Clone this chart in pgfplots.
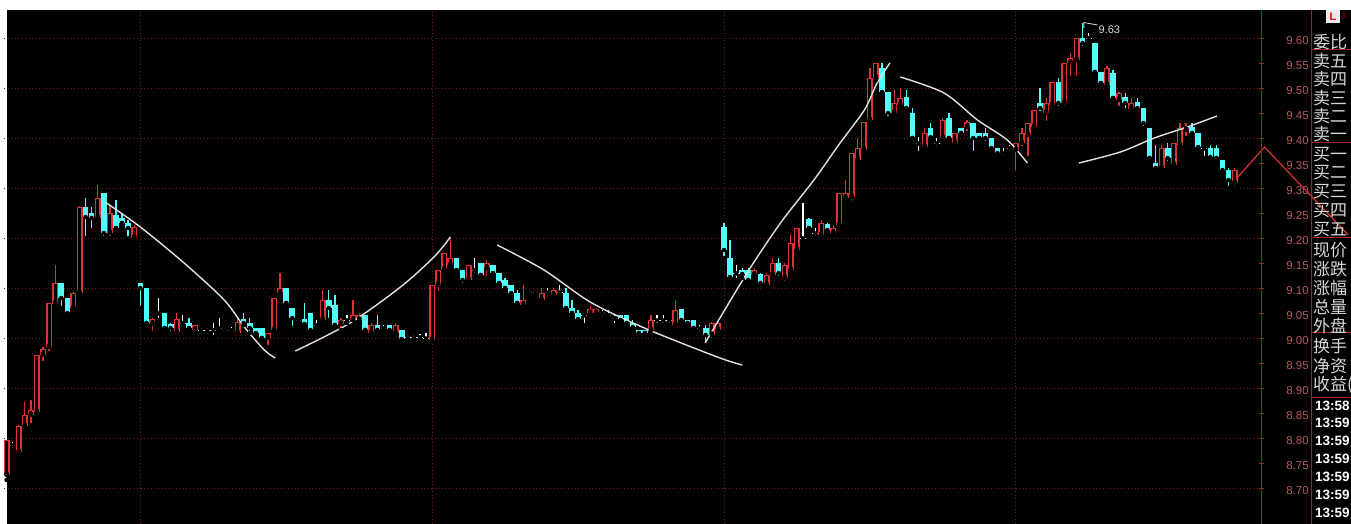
\documentclass[border=0pt]{standalone}
\usepackage{pgfplots}
\pgfplotsset{compat=1.18}
\usepackage{pgfplotstable}
\usepackage{fontspec}
\setmainfont{Liberation Sans}
\newfontfamily\cjk{Noto Sans CJK SC}
\definecolor{upred}{RGB}{220,50,50}
\definecolor{dncyan}{RGB}{84,252,252}
\definecolor{gridred}{RGB}{115,25,25}
\definecolor{axred}{RGB}{160,35,35}
\definecolor{lblgray}{RGB}{180,90,95}
\definecolor{txtgray}{RGB}{215,215,215}
\definecolor{trend}{RGB}{225,225,225}

\pgfplotstableread{
i o h l c
0 8.726 8.796 8.716 8.796
2 8.772 8.826 8.770 8.824
3 8.824 8.872 8.822 8.846
4 8.846 8.876 8.826 8.856
5 8.852 8.966 8.846 8.966
6 8.966 8.982 8.950 8.978
7 8.982 9.070 8.970 9.070
8 9.068 9.146 9.068 9.110
11 9.060 9.092 9.050 9.090
12 9.090 9.264 9.090 9.262
15 9.240 9.306 9.240 9.280
17 9.210 9.266 9.200 9.250
21 9.200 9.226 9.200 9.222
24 9.028 9.040 9.010 9.038
28 9.012 9.050 9.010 9.038
31 9.016 9.026 9.010 9.026
38 9.010 9.040 9.010 9.032
43 9.000 9.010 8.982 9.010
44 9.016 9.080 9.016 9.080
45 9.090 9.130 9.090 9.100
52 9.036 9.096 9.036 9.076
55 9.028 9.040 9.016 9.036
57 9.036 9.076 9.036 9.046
58 9.036 9.050 9.030 9.046
60 9.010 9.030 9.006 9.026
64 9.010 9.030 9.006 9.026
70 8.996 9.106 8.996 9.106
71 9.106 9.136 9.090 9.136
72 9.136 9.170 9.136 9.170
73 9.146 9.200 9.140 9.160
76 9.116 9.146 9.110 9.146
79 9.140 9.156 9.120 9.150
85 9.066 9.106 9.060 9.076
88 9.076 9.100 9.076 9.090
90 9.086 9.100 9.086 9.096
96 9.050 9.064 9.050 9.058
97 9.050 9.060 9.050 9.058
106 9.016 9.046 9.016 9.036
110 9.026 9.076 9.026 9.056
116 9.006 9.032 8.996 9.030
117 9.016 9.032 9.010 9.030
123 9.126 9.140 9.120 9.136
125 9.106 9.130 9.100 9.126
126 9.126 9.160 9.116 9.150
128 9.120 9.150 9.110 9.146
129 9.136 9.206 9.136 9.190
130 9.176 9.220 9.170 9.220
134 9.206 9.236 9.200 9.230
136 9.210 9.226 9.206 9.220
137 9.226 9.290 9.220 9.290
138 9.280 9.316 9.276 9.290
139 9.282 9.370 9.270 9.370
140 9.356 9.400 9.350 9.380
141 9.376 9.432 9.370 9.432
142 9.436 9.540 9.430 9.520
143 9.520 9.550 9.516 9.550
146 9.450 9.496 9.446 9.470
147 9.466 9.500 9.460 9.480
151 9.382 9.420 9.380 9.410
154 9.400 9.440 9.400 9.436
156 9.390 9.410 9.390 9.410
158 9.422 9.436 9.410 9.432
166 9.376 9.390 9.330 9.390
167 9.390 9.420 9.380 9.410
168 9.406 9.430 9.360 9.430
169 9.422 9.456 9.416 9.456
171 9.450 9.480 9.430 9.470
172 9.466 9.512 9.460 9.512
174 9.470 9.550 9.460 9.550
175 9.550 9.570 9.520 9.560
176 9.556 9.600 9.520 9.600
181 9.506 9.544 9.500 9.540
183 9.476 9.492 9.460 9.490
185 9.458 9.480 9.456 9.470
190 9.340 9.386 9.340 9.380
192 9.346 9.390 9.346 9.390
193 9.386 9.430 9.380 9.420
194 9.416 9.430 9.400 9.422
202 9.310 9.340 9.300 9.336
}\upcandles

\pgfplotstableread{
i o h l c
9 9.110 9.110 9.060 9.080
10 9.080 9.080 9.050 9.050
13 9.262 9.280 9.200 9.242
14 9.250 9.262 9.216 9.240
16 9.290 9.290 9.200 9.210
18 9.246 9.276 9.220 9.220
19 9.240 9.250 9.230 9.230
20 9.230 9.236 9.200 9.220
22 9.110 9.110 9.060 9.100
23 9.100 9.100 9.030 9.030
26 9.050 9.050 9.020 9.020
27 9.028 9.030 9.010 9.020
30 9.030 9.040 9.020 9.020
39 9.038 9.050 9.026 9.030
40 9.030 9.040 9.010 9.020
41 9.020 9.020 9.006 9.010
42 9.020 9.020 9.000 9.000
46 9.100 9.100 9.070 9.070
47 9.060 9.060 9.020 9.040
49 9.038 9.070 9.028 9.028
50 9.050 9.050 9.010 9.016
53 9.076 9.096 9.036 9.060
54 9.066 9.086 9.026 9.026
59 9.046 9.046 9.016 9.016
61 9.026 9.046 9.016 9.016
63 9.026 9.026 9.016 9.016
65 9.016 9.016 8.996 8.998
74 9.160 9.160 9.136 9.136
75 9.136 9.136 9.106 9.116
78 9.150 9.150 9.126 9.126
80 9.146 9.146 9.130 9.130
81 9.130 9.130 9.110 9.110
82 9.116 9.120 9.100 9.100
83 9.106 9.106 9.082 9.090
84 9.090 9.096 9.070 9.070
92 9.090 9.100 9.060 9.060
93 9.060 9.076 9.050 9.050
94 9.050 9.056 9.036 9.038
101 9.046 9.046 9.036 9.036
102 9.046 9.046 9.030 9.030
103 9.030 9.036 9.020 9.022
104 9.016 9.016 9.010 9.010
105 9.016 9.016 9.010 9.010
111 9.058 9.058 9.030 9.036
112 9.036 9.036 9.030 9.030
113 9.036 9.036 9.020 9.020
115 9.020 9.026 8.986 9.006
118 9.222 9.230 9.160 9.176
119 9.160 9.196 9.120 9.122
121 9.136 9.140 9.120 9.128
122 9.136 9.140 9.116 9.116
124 9.128 9.130 9.106 9.110
127 9.150 9.160 9.120 9.130
132 9.238 9.240 9.220 9.220
135 9.228 9.230 9.210 9.216
144 9.540 9.550 9.490 9.492
145 9.492 9.492 9.440 9.450
148 9.482 9.496 9.460 9.460
149 9.450 9.460 9.400 9.400
152 9.420 9.430 9.400 9.402
155 9.440 9.450 9.400 9.400
157 9.420 9.420 9.410 9.410
159 9.430 9.430 9.370 9.400
160 9.410 9.410 9.400 9.400
161 9.410 9.420 9.390 9.400
162 9.400 9.400 9.376 9.380
163 9.380 9.380 9.366 9.370
170 9.470 9.500 9.450 9.460
173 9.512 9.520 9.460 9.470
177 9.600 9.630 9.580 9.590
179 9.590 9.590 9.532 9.532
180 9.532 9.532 9.510 9.510
182 9.530 9.536 9.480 9.480
184 9.482 9.490 9.456 9.470
186 9.472 9.480 9.456 9.460
187 9.460 9.460 9.420 9.430
188 9.420 9.420 9.360 9.360
189 9.350 9.386 9.340 9.340
191 9.380 9.390 9.350 9.360
195 9.422 9.430 9.406 9.410
196 9.410 9.410 9.380 9.382
198 9.380 9.385 9.360 9.362
199 9.380 9.385 9.360 9.360
200 9.356 9.356 9.330 9.336
201 9.336 9.340 9.300 9.316
}\dncandles

\pgfplotstableread{
i o h l
1 8.786 8.792 8.776
25 9.050 9.080 9.036
29 9.030 9.046 9.030
32 9.016 9.020 9.010
33 9.016 9.020 9.010
34 9.016 9.030 9.002
35 9.020 9.040 9.016
36 9.016 9.020 9.010
37 9.016 9.022 9.010
48 9.036 9.040 9.030
51 9.026 9.036 9.016
56 9.036 9.046 9.030
62 9.020 9.026 9.012
66 9.002 9.006 8.996
67 9.002 9.006 8.994
68 9.002 9.008 8.994
69 9.000 9.010 8.996
77 9.136 9.160 9.126
86 9.092 9.096 9.086
87 9.092 9.096 9.086
89 9.092 9.100 9.086
91 9.092 9.106 9.086
95 9.046 9.050 9.026
98 9.050 9.056 9.040
99 9.046 9.056 9.040
100 9.040 9.046 9.026
107 9.036 9.046 9.026
108 9.036 9.046 9.026
109 9.036 9.036 9.026
114 9.020 9.026 9.010
120 9.130 9.146 9.116
131 9.200 9.270 9.196
133 9.210 9.220 9.200
150 9.390 9.402 9.370
153 9.390 9.400 9.380
164 9.370 9.380 9.360
165 9.380 9.386 9.370
178 9.600 9.610 9.595
197 9.380 9.380 9.360
}\djcandles

\begin{document}
\begin{tikzpicture}[x=1pt,y=1pt]
\path[use as bounding box] (0,0) rectangle (1351,524);
\fill[white] (0,0) rectangle (1351,524);
\fill[black] (7,0) rectangle (1351,514);

\begin{axis}[
  at={(7,0)}, anchor=south west,
  scale only axis, width=1255pt, height=514pt,
  xmin=-0.378, xmax=206.05, ymin=8.628, ymax=9.656,
  axis line style={draw=none},
  clip=false,
  xtick={22,70,118,166}, xticklabels={},
  xmajorgrids=true,
  x tick style={draw=none},
  ytick pos=right,
  ytick={8.70,8.75,8.80,8.85,8.90,8.95,9.00,9.05,9.10,9.15,9.20,9.25,9.30,9.35,9.40,9.45,9.50,9.55,9.60},
  yticklabels={8.70,8.75,8.80,8.85,8.90,8.95,9.00,9.05,9.10,9.15,9.20,9.25,9.30,9.35,9.40,9.45,9.50,9.55,9.60},
  yticklabel pos=right,
  yticklabel style={anchor=east, xshift=48pt, yshift=-2.5pt, text=lblgray, font=\fontsize{11.5}{12}\selectfont},
  y tick style={axred, line width=0.8pt},
  tick align=outside,
  major tick length=5pt,
  extra y ticks={8.7,8.8,8.9,9.0,9.1,9.2,9.3,9.4,9.5,9.6},
  extra y tick labels={},
  extra y tick style={grid=major, y tick style={draw=none}},
  grid style={gridred, line width=0.9pt, dash pattern=on 1pt off 2.5pt},
  error bars/error mark=none,
]
% ---- red (up) candles: wick, outline body, hollow interior
\addplot[only marks, mark=none, error bars/.cd, y dir=plus, y explicit,
  error bar style={upred, line width=1.3pt}]
  table[x=i, y=l, y error expr=\thisrow{h}-\thisrow{l}] {\upcandles};
\addplot[only marks, mark=none, error bars/.cd, y dir=plus, y explicit,
  error bar style={upred, line width=6pt}]
  table[x=i, y=o, y error expr=\thisrow{c}-\thisrow{o}] {\upcandles};
\addplot[only marks, mark=none, error bars/.cd, y dir=plus, y explicit,
  error bar style={black, line width=3pt}]
  table[x=i, y expr=\thisrow{o}+0.003, y error expr={max(\thisrow{c}-\thisrow{o}-0.006,0.001)}] {\upcandles};
% ---- cyan (down) candles
\addplot[only marks, mark=none, error bars/.cd, y dir=plus, y explicit,
  error bar style={dncyan, line width=1.3pt}]
  table[x=i, y=l, y error expr=\thisrow{h}-\thisrow{l}] {\dncandles};
\addplot[only marks, mark=none, error bars/.cd, y dir=plus, y explicit,
  error bar style={dncyan, line width=5.6pt}]
  table[x=i, y=c, y error expr=\thisrow{o}-\thisrow{c}] {\dncandles};
% ---- white doji
\addplot[only marks, mark=none, error bars/.cd, y dir=plus, y explicit,
  error bar style={white, line width=1.2pt}]
  table[x=i, y=l, y error expr=\thisrow{h}-\thisrow{l}] {\djcandles};
\addplot[only marks, mark=none, error bars/.cd, y dir=plus, y explicit,
  error bar style={white, line width=5.6pt}]
  table[x=i, y expr=\thisrow{o}-0.0009, y error expr=0.0018] {\djcandles};

% ---- hand-drawn trend curves
\addplot[trend, line width=1.4pt, smooth, tension=0.5] coordinates {
 (16.2,9.272) (22.0,9.222) (29.2,9.150) (35.8,9.076) (39.1,9.022) (42.4,8.976) (44.2,8.960)};
\addplot[trend, line width=1.4pt, smooth, tension=0.5] coordinates {
 (47.5,8.974) (56.5,9.030) (64.8,9.102) (70.3,9.162) (73.0,9.202)};
\addplot[trend, line width=1.4pt, smooth, tension=0.5] coordinates {
 (80.7,9.186) (88.4,9.136) (96.0,9.072) (104.9,9.020) (116.9,8.962) (121.0,8.946)};
\addplot[trend, line width=1.4pt, smooth, tension=0.5] coordinates {
 (114.9,8.990) (121.8,9.130) (127.3,9.230) (132.8,9.316) (137.1,9.390) (141.1,9.456) (143.2,9.510) (145.3,9.550)};
\addplot[trend, line width=1.4pt, smooth, tension=0.5] coordinates {
 (147.0,9.522) (154.2,9.490) (159.7,9.436) (164.6,9.396) (167.9,9.350)};
\addplot[trend, line width=1.4pt, smooth, tension=0.5] coordinates {
 (176.4,9.350) (183.2,9.372) (188.8,9.400) (194.2,9.422) (199.1,9.444)};
% ---- red price line at the right edge
\addplot[upred, line width=1.2pt] coordinates {(202.4,9.320) (206.9,9.382) (220.7,9.206)};

% ---- high marker
\draw[txtgray, line width=0.8pt] (axis cs:177.2,9.620) -- (axis cs:177.2,9.631) -- (axis cs:179.4,9.626);
\node[anchor=west, text=txtgray, font=\fontsize{11}{12}\selectfont, inner sep=0pt] at (axis cs:179.6,9.616) {9.63};
\end{axis}

% ---- right information panel
\draw[axred, line width=1pt] (1261,0) -- (1261,514);
\draw[axred, line width=1pt] (1311,0) -- (1311,514);
\foreach \yy in {50,143,238,333,398} {\draw[axred, line width=1pt] (1311,524-\yy) -- (1351,524-\yy);}
\fill[white!92!black] (1326,501) rectangle (1340,514);
\node[text=red, font=\bfseries\fontsize{11}{12}\selectfont, inner sep=0pt] at (1333,507.5) {L};
\node[anchor=west, text=red!70!black, font=\fontsize{8}{9}\selectfont, inner sep=0pt] at (1341,508) {3};

\begin{scope}[every node/.style={anchor=west, inner sep=0pt, text=txtgray, font=\cjk\fontsize{17}{18}\selectfont}]
\node at (1313,524-42) {委比};
\node at (1313,524-61) {卖五};
\node at (1313,524-79) {卖四};
\node at (1313,524-98) {卖三};
\node at (1313,524-116) {卖二};
\node at (1313,524-134) {卖一};
\node at (1313,524-155) {买一};
\node at (1313,524-173) {买二};
\node at (1313,524-192) {买三};
\node at (1313,524-211) {买四};
\node at (1313,524-230) {买五};
\node at (1313,524-250) {现价};
\node at (1313,524-269) {涨跌};
\node at (1313,524-288) {涨幅};
\node at (1313,524-307) {总量};
\node at (1313,524-326) {外盘};
\node at (1313,524-346) {换手};
\node at (1313,524-366) {净资};
\node at (1313,524-385) {收益(};
\end{scope}
\begin{scope}[every node/.style={anchor=west, inner sep=0pt, text=white, font=\bfseries\fontsize{13.5}{14}\selectfont}]
\node at (1315,524-406) {13:58};
\node at (1315,524-423) {13:59};
\node at (1315,524-441) {13:59};
\node at (1315,524-459) {13:59};
\node at (1315,524-477) {13:59};
\node at (1315,524-495) {13:59};
\node at (1315,524-513) {13:59};
\end{scope}
\end{tikzpicture}
\end{document}
